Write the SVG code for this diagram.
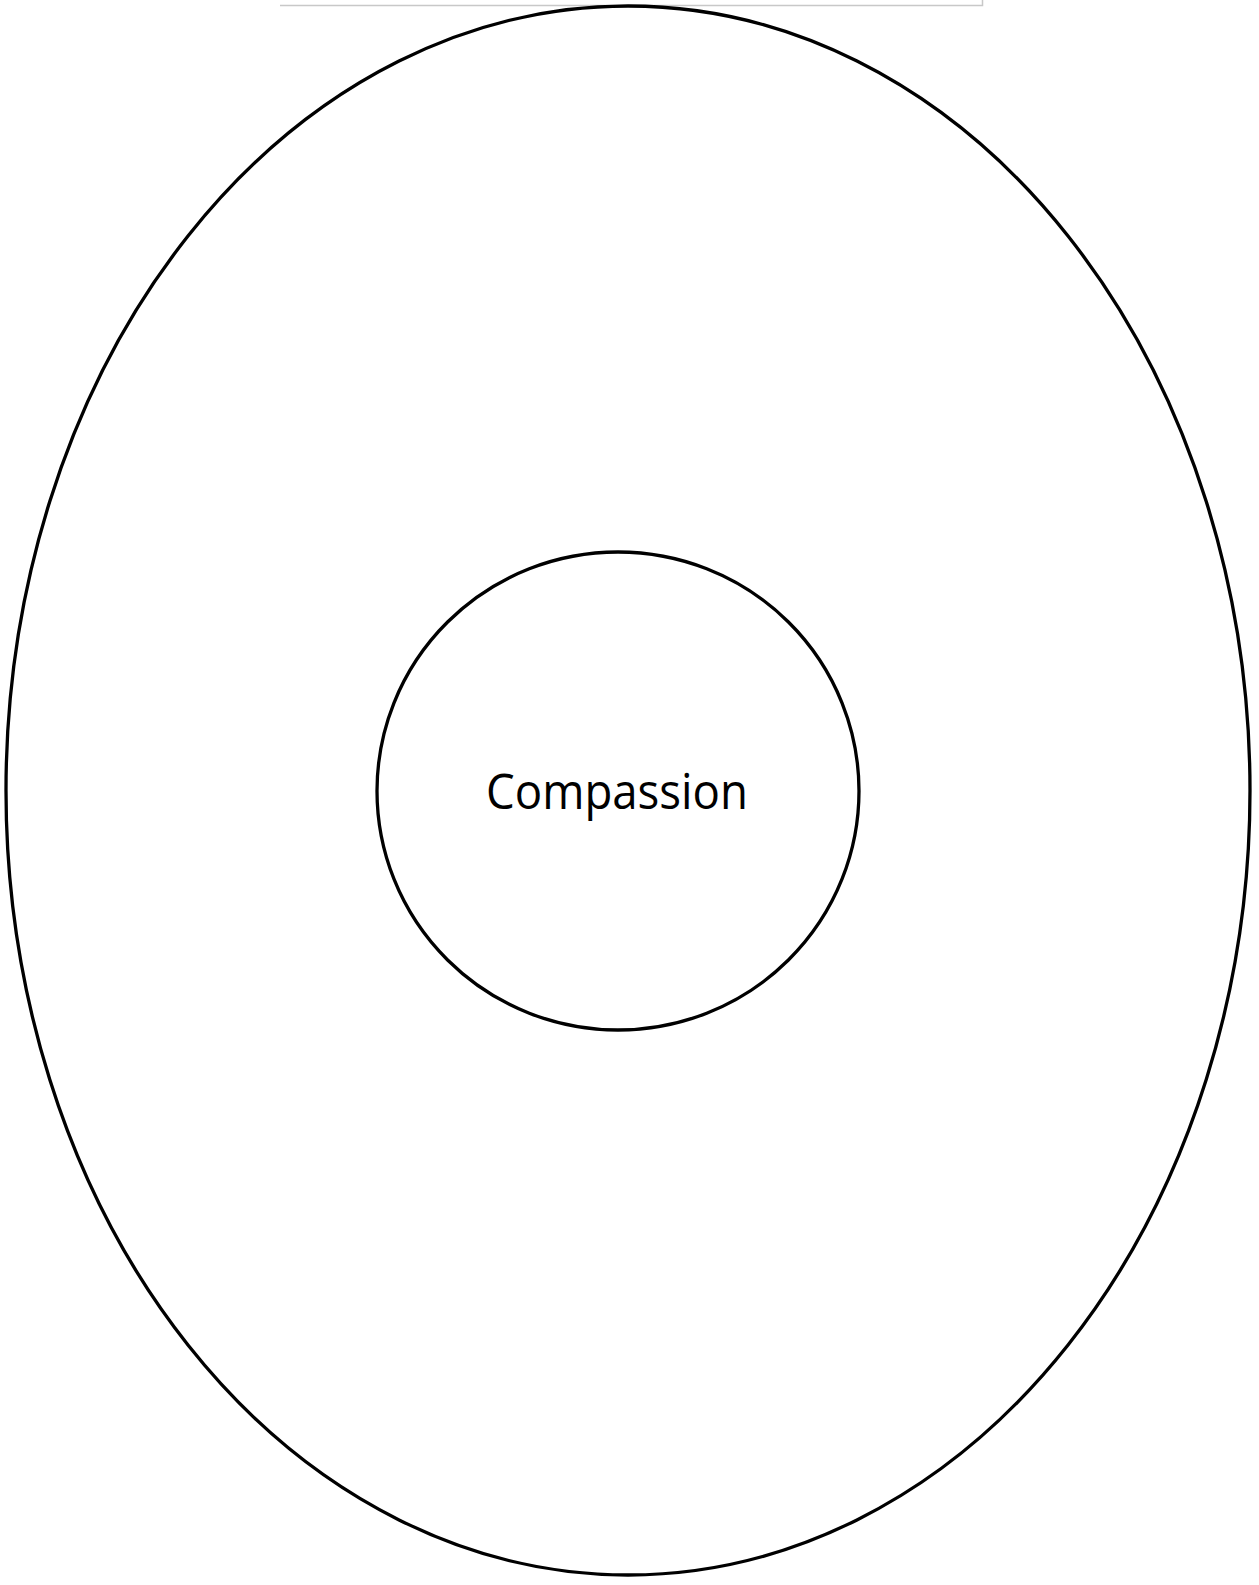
<svg xmlns="http://www.w3.org/2000/svg" width="1259" height="1585" viewBox="0 0 1259 1585">
<style>
.shape{fill:#ffffff;stroke:#000000;stroke-width:3.3}
.label{font-family:"Open Sans","Liberation Sans",sans-serif;font-size:49px;fill:#000000}
</style>
<rect width="1259" height="1585" fill="#ffffff"/>
<path d="M280 5.5 H982.5 V0" fill="none" stroke="#c8c8c8" stroke-width="1.5"/>
<g id="outer">
<ellipse class="shape" cx="628" cy="790.5" rx="622" ry="784.5"/>
</g>
<g id="compassion">
<ellipse class="shape" cx="618" cy="791" rx="241" ry="239"/>
<text class="label" x="617" y="809" text-anchor="middle" textLength="262" lengthAdjust="spacingAndGlyphs">Compassion</text>
</g>
<g id="connectors"/>
</svg>
